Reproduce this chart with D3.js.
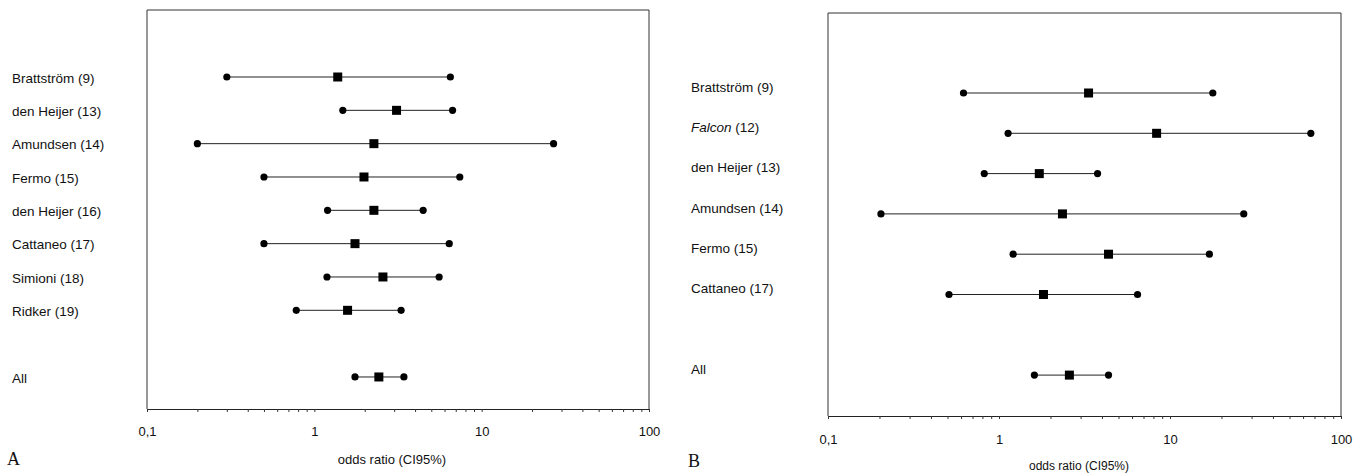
<!DOCTYPE html>
<html>
<head>
<meta charset="utf-8">
<script src="https://cdn.jsdelivr.net/npm/d3@7"></script>
<style>
  body { margin: 0; background: #fff; }
  svg { display: block; }
  text { font-family: 'Liberation Sans', Arial, sans-serif; fill: #111; }
</style>
</head>
<body>
<svg id="chart" width="1362" height="475"></svg>
<script>
// panel A
var studiesA = ['Brattström (9)', 'den Heijer (13)', 'Amundsen (14)', 'Fermo (15)', 'den Heijer (16)', 'Cattaneo (17)', 'Simioni (18)', 'Ridker (19)', 'All']
var orA = [1.38, 3.1, 2.27, 1.98, 2.27, 1.75, 2.57, 1.58, 2.43]
var lowA = [0.30, 1.48, 0.20, 0.50, 1.2, 0.50, 1.19, 0.78, 1.75]
var highA = [6.5, 6.7, 26.9, 7.4, 4.47, 6.4, 5.57, 3.3, 3.43]

// panel B
var studiesB = ['Brattström (9)', 'Falcon (12)', 'den Heijer (13)', 'Amundsen (14)', 'Fermo (15)', 'Cattaneo (17)', 'All']
var orB = [3.34, 8.35, 1.72, 2.35, 4.37, 1.82, 2.58]
var lowB = [0.62, 1.13, 0.82, 0.204, 1.21, 0.51, 1.61]
var highB = [17.8, 66.6, 3.77, 27, 17, 6.46, 4.37]

var tickValues = [0.1, 1, 10, 100]
var tickLabels = ['0,1', '1', '10', '100']
var axisTitle = 'odds ratio (CI95%)'

var svg = d3.select('#chart')

function drawPanel (p) {
  var n = p.studies.length
  // row index, leaving one empty row before "All"
  function row (i) { return i < n - 1 ? i : i + 1 }

  var x = d3.scaleLog().domain([0.1, 100]).range([p.left, p.right])
  var y = d3.scaleLinear().domain([0, 1]).range([p.firstRow, p.firstRow + p.step])

  var g = svg.append('g')

  // frame
  g.append('path')
    .attr('d', 'M' + p.left + ',' + p.bottom + 'V' + p.top + 'H' + p.right + 'V' + p.bottom)
    .attr('fill', 'none')
    .attr('stroke', '#333')
    .attr('stroke-width', 1)

  // axis: minor ticks 1..9 in each decade, plus 100
  var minor = []
  for (var d = 0.1; d < 99; d *= 10) {
    for (var k = 1; k <= 9; k++) minor.push(+(d * k).toPrecision(3))
  }
  minor.push(100)
  var axis = g.append('g')
    .attr('transform', 'translate(0,' + p.bottom + ')')
    .call(d3.axisBottom(x).tickValues(minor).tickSize(3).tickSizeOuter(0)
      .tickFormat(function (v) {
        var i = tickValues.indexOf(v)
        return i >= 0 ? tickLabels[i] : ''
      }))
  axis.select('.domain').attr('stroke', '#222')
  axis.selectAll('.tick line').attr('stroke', '#333')
  axis.selectAll('.tick text')
    .attr('y', p.tickLabelOffset)
    .attr('dy', '0.35em')
    .style('font-size', '13px')
    .style('font-family', "'Liberation Sans', Arial, sans-serif")
    .attr('fill', '#111')

  // study labels
  var labels = g.selectAll('.label')
    .data(p.studies)
    .enter().append('text')
    .attr('class', 'label')
    .attr('x', p.labelX)
    .attr('y', function (d, i) { return y(row(i)) + p.labelShift })
    .attr('dy', '0.35em')
    .style('font-size', '13.5px')
  labels.each(function (d) {
    var t = d3.select(this)
    var m = d.match(/^(Falcon)(.*)$/)
    if (m) {
      t.append('tspan').style('font-style', 'italic').text(m[1])
      t.append('tspan').text(m[2])
    } else {
      t.text(d)
    }
  })

  // CI lines
  g.selectAll('.ci')
    .data(p.studies)
    .enter().append('line')
    .attr('x1', function (d, i) { return x(p.low[i]) })
    .attr('x2', function (d, i) { return x(p.high[i]) })
    .attr('y1', function (d, i) { return y(row(i)) })
    .attr('y2', function (d, i) { return y(row(i)) })
    .attr('stroke', '#222')
    .attr('stroke-width', 1)

  // CI end dots
  var ends = []
  p.studies.forEach(function (d, i) {
    ends.push({ v: p.low[i], r: row(i) })
    ends.push({ v: p.high[i], r: row(i) })
  })
  g.selectAll('.end')
    .data(ends)
    .enter().append('circle')
    .attr('cx', function (d) { return x(d.v) })
    .attr('cy', function (d) { return y(d.r) })
    .attr('r', 3.6)
    .attr('fill', '#000')

  // point estimates
  var s = 9
  g.selectAll('.est')
    .data(p.studies)
    .enter().append('rect')
    .attr('x', function (d, i) { return x(p.or[i]) - s / 2 })
    .attr('y', function (d, i) { return y(row(i)) - s / 2 })
    .attr('width', s)
    .attr('height', s)
    .attr('fill', '#000')

  // axis title
  g.append('text')
    .attr('x', p.titleX)
    .attr('y', p.titleY)
    .attr('dy', '0.35em')
    .attr('text-anchor', 'middle')
    .style('font-size', p.titleSize + 'px')
    .text(axisTitle)

  // panel letter
  g.append('text')
    .attr('x', p.letterX)
    .attr('y', p.letterY)
    .attr('dy', '0.35em')
    .style('font-family', "'Liberation Serif', 'Times New Roman', serif")
    .style('font-size', '18px')
    .text(p.letter)
}

drawPanel({
  studies: studiesA, or: orA, low: lowA, high: highA,
  left: 147, right: 649, top: 10, bottom: 409,
  firstRow: 77, step: 33.33, labelX: 12, labelShift: 1,
  tickLabelOffset: 22, titleX: 392, titleY: 459, titleSize: 13,
  letter: 'A', letterX: 7, letterY: 459
})

drawPanel({
  studies: studiesB, or: orB, low: lowB, high: highB,
  left: 828, right: 1341, top: 13, bottom: 416,
  firstRow: 93, step: 40.3, labelX: 691, labelShift: -6,
  tickLabelOffset: 23, titleX: 1079, titleY: 466, titleSize: 12,
  letter: 'B', letterX: 688, letterY: 461
})
</script>
</body>
</html>
